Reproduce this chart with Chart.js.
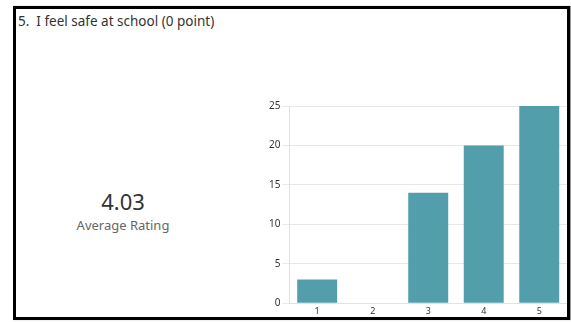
<!DOCTYPE html>
<html>
<head>
<meta charset="utf-8">
<script src="https://cdn.jsdelivr.net/npm/chart.js@4/dist/chart.umd.min.js"></script>
<style>
  html, body { margin: 0; padding: 0; background: #fff; width: 571px; height: 322px; overflow: hidden; }
  body { position: relative; font-family: "Noto Sans", "Open Sans", sans-serif; }
  #frame {
    position: absolute; left: 13px; top: 6px; width: 557px; height: 314px;
    box-sizing: border-box; border: 3px solid #000; pointer-events: none; z-index: 5;
    box-shadow: 1px 0 1px #999;
  }
  #title {
    position: absolute; left: 18px; top: 12px; font-size: 13.5px; color: #333; white-space: pre;
  }
  #avg {
    position: absolute; left: 52px; width: 142px; top: 187px; text-align: center;
  }
  #avg .num { font-size: 22px; color: #333; line-height: 28px; }
  #avg .lbl { font-size: 13px; color: #666; line-height: 20px; }
  #chartBox { position: absolute; left: 250px; top: 98px; width: 317px; height: 222px; }
</style>
</head>
<body>
<div id="title"></div>
<div id="avg"><div class="num" id="avgNum"></div><div class="lbl">Average Rating</div></div>
<div id="chartBox"><canvas id="c"></canvas></div>
<div id="frame"></div>
<script>
  // Question text and rating distribution
  const questionTitle = '5.  I feel safe at school (0 point)';
  const ratings = ['1', '2', '3', '4', '5'];
  const counts = [3, 0, 14, 20, 25];
  const yTickValues = [0, 5, 10, 15, 20, 25];

  // Weighted mean of the ratings
  let total = 0, weighted = 0;
  ratings.forEach((r, i) => { total += counts[i]; weighted += Number(r) * counts[i]; });
  document.getElementById('title').textContent = questionTitle;
  document.getElementById('avgNum').textContent = (weighted / total).toFixed(2);

  new Chart(document.getElementById('c'), {
    type: 'bar',
    data: {
      labels: ratings,
      datasets: [{
        data: counts,
        backgroundColor: '#529fab',
        borderWidth: 0,
        categoryPercentage: 1,
        barPercentage: 0.72
      }]
    },
    options: {
      responsive: true,
      maintainAspectRatio: false,
      animation: false,
      layout: { padding: { top: 3, right: 0, bottom: 0, left: 17 } },
      plugins: { legend: { display: false }, tooltip: { enabled: false } },
      scales: {
        x: {
          grid: { display: false, drawTicks: false, tickLength: 0 },
          border: { color: '#e2e2e2', width: 1 },
          ticks: { color: '#333', font: { family: 'Noto Sans', size: 9 }, padding: 3 }
        },
        y: {
          min: yTickValues[0],
          max: yTickValues[yTickValues.length - 1],
          afterBuildTicks: axis => { axis.ticks = yTickValues.map(v => ({ value: v })); },
          grid: { color: '#e8e8e8', tickLength: 7, lineWidth: 1 },
          border: { color: '#e2e2e2', width: 1 },
          ticks: { color: '#333', font: { family: 'Noto Sans', size: 10 }, padding: 2 }
        }
      }
    }
  });
</script>
</body>
</html>
